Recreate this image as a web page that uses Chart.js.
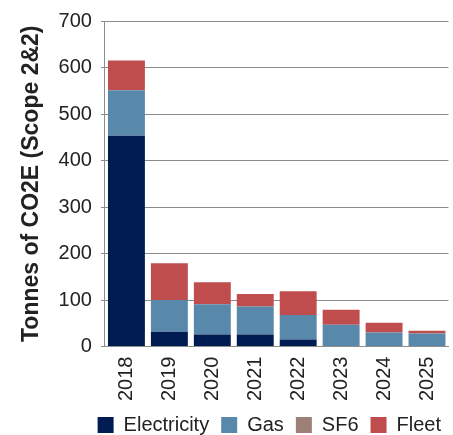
<!DOCTYPE html>
<html>
<head>
<meta charset="utf-8">
<script src="https://cdn.jsdelivr.net/npm/chart.js@4/dist/chart.umd.min.js"></script>
<style>
  html, body { margin: 0; padding: 0; background: #fff; }
  #wrap { width: 453px; height: 435px; }
</style>
</head>
<body>
<div id="wrap"><canvas id="co2"></canvas></div>
<script>
// emissions by source, tonnes CO2E
const years = ['2018', '2019', '2020', '2021', '2022', '2023', '2024', '2025'];
const electricity = [453, 32, 26, 26, 15, 0, 0, 0];
const gas = [98, 68, 65, 60, 53, 47, 30, 28];
const sf6 = [0, 0, 0, 0, 0, 0, 0, 0];
const fleet = [64, 79, 47, 27, 51, 32, 21, 6];
const yTicks = [0, 100, 200, 300, 400, 500, 600, 700];

const font = "'Liberation Sans', Arial, sans-serif";

const bar = (label, data, color) => ({
  label, data,
  backgroundColor: color,
  borderWidth: 0,
  barPercentage: 0.86,
  categoryPercentage: 1
});

new Chart(document.getElementById('co2').getContext('2d'), {
  type: 'bar',
  data: {
    labels: years,
    datasets: [
      bar('Electricity', electricity, '#001c52'),
      bar('Gas', gas, '#5889ab'),
      bar('SF6', sf6, '#9c7f75'),
      bar('Fleet', fleet, '#c04d4e')
    ]
  },
  options: {
    responsive: true,
    maintainAspectRatio: false,
    animation: false,
    layout: { padding: { left: 14, top: -3, right: 0, bottom: -10 } },
    plugins: {
      tooltip: { enabled: false },
      legend: {
        position: 'bottom',
        align: 'end',
        labels: {
          boxWidth: 16, boxHeight: 16, padding: 12,
          color: '#222',
          font: { family: font, size: 20 }
        }
      }
    },
    scales: {
      x: {
        stacked: true,
        grid: { display: false },
        border: { color: '#8c8c8c' },
        ticks: {
          minRotation: 90, maxRotation: 90, padding: 2,
          color: '#222',
          font: { family: font, size: 20 }
        }
      },
      y: {
        stacked: true,
        min: 0, max: 700,
        afterBuildTicks: s => { s.ticks = yTicks.map(v => ({ value: v })); },
        grid: { color: '#8c8c8c', tickLength: 4 },
        border: { color: '#8c8c8c' },
        ticks: {
          padding: 9,
          color: '#222',
          font: { family: font, size: 20 }
        },
        title: {
          display: true,
          text: 'Tonnes of CO2E (Scope 2&2)',
          color: '#222',
          font: { family: font, size: 23, weight: 'bold' }
        }
      }
    }
  }
});
</script>
</body>
</html>
